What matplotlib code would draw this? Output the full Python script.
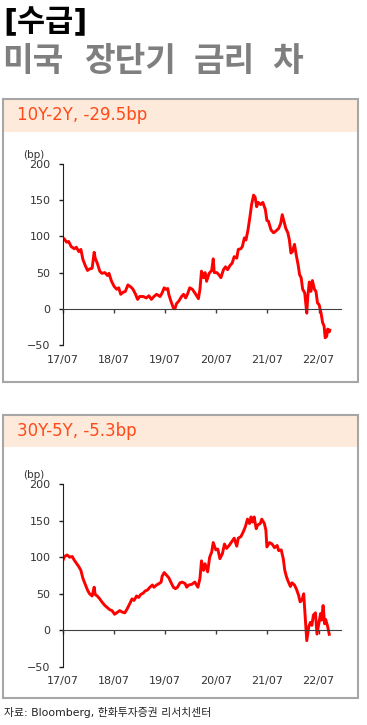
import matplotlib.pyplot as plt
from matplotlib.patches import Rectangle

plt.rcParams['font.family'] = ['DejaVu Sans', 'Noto Sans CJK KR']

# 시간축: 2017/07 부터 경과 연수
t_10y2y = [0.00, 0.03, 0.07, 0.11, 0.16, 0.22, 0.26, 0.31, 0.35, 0.39, 0.44, 0.48,
           0.52, 0.57, 0.61, 0.63, 0.67, 0.72, 0.76, 0.82, 0.87, 0.90, 0.95, 1.00,
           1.05, 1.09, 1.13, 1.18, 1.22, 1.27, 1.33, 1.37, 1.42, 1.46, 1.50, 1.57,
           1.63, 1.68, 1.73, 1.78, 1.83, 1.90, 1.94, 1.98, 2.01, 2.05, 2.07, 2.11,
           2.16, 2.19, 2.22, 2.27, 2.32, 2.36, 2.40, 2.44, 2.48, 2.53,
           2.58, 2.65, 2.68, 2.71, 2.75, 2.78, 2.81, 2.86, 2.91, 2.94, 2.96, 3.01,
           3.05, 3.09, 3.14, 3.18, 3.22, 3.27, 3.31, 3.35, 3.40, 3.43, 3.48, 3.51,
           3.55, 3.58, 3.62, 3.66, 3.69, 3.73, 3.76, 3.79, 3.82, 3.87, 3.91, 3.96,
           3.99, 4.02, 4.07, 4.12, 4.16, 4.22, 4.26, 4.29, 4.33, 4.36, 4.40, 4.43,
           4.46, 4.49, 4.53, 4.56, 4.60, 4.63, 4.66, 4.69, 4.73, 4.77, 4.79, 4.82,
           4.85, 4.88, 4.92, 4.95, 4.98, 5.01, 5.05, 5.08, 5.11, 5.13, 5.16, 5.18,
           5.21, 5.22]
v_10y2y = [98, 96, 92, 93, 86, 83, 85, 79, 82, 68, 59, 53,
           55, 56, 78, 70, 63, 52, 49, 50, 46, 49, 38, 31,
           27, 29, 20, 23, 24, 33, 30, 27, 20, 13, 17, 17,
           15, 18, 13, 17, 20, 17, 22, 29, 27, 28, 20, 11,
           1, 0, 7, 11, 17, 20, 15, 21, 29, 27,
           22, 14, 27, 52, 43, 50, 38, 49, 53, 69, 50, 50,
           47, 43, 54, 58, 54, 60, 63, 72, 70, 82, 83, 86,
           98, 95, 109, 128, 144, 157, 154, 141, 147, 144, 147, 137,
           122, 121, 109, 105, 107, 111, 118, 130, 119, 111, 105, 95,
           77, 79, 89, 76, 61, 47, 43, 27, 22, -6, 17, 37,
           24, 39, 27, 24, 8, 6, -6, -19, -24, -40, -38, -28,
           -32, -29.5]

t_30y5y = [0.00, 0.03, 0.08, 0.13, 0.18, 0.22, 0.26, 0.31, 0.35, 0.39, 0.44, 0.48,
           0.52, 0.57, 0.61, 0.63, 0.67, 0.72, 0.76, 0.82, 0.87, 0.92, 0.96, 1.01,
           1.07, 1.11, 1.16, 1.21, 1.26, 1.31, 1.35, 1.39, 1.44, 1.48, 1.52, 1.57,
           1.61, 1.65, 1.70, 1.75, 1.78, 1.83, 1.88, 1.92, 1.94, 1.98, 2.03, 2.07,
           2.11, 2.16, 2.20, 2.24, 2.29, 2.33, 2.39, 2.42, 2.46, 2.52,
           2.58, 2.64, 2.68, 2.71, 2.75, 2.78, 2.83, 2.87, 2.91, 2.94, 2.99, 3.03,
           3.07, 3.12, 3.16, 3.20, 3.25, 3.30, 3.35, 3.40, 3.43, 3.48, 3.53, 3.57,
           3.61, 3.65, 3.68, 3.71, 3.74, 3.78, 3.81, 3.86, 3.89, 3.94, 3.97, 3.99,
           4.04, 4.09, 4.14, 4.19, 4.22, 4.27, 4.31, 4.34, 4.37, 4.40, 4.45, 4.48,
           4.53, 4.57, 4.61, 4.64, 4.68, 4.71, 4.74, 4.77, 4.81, 4.84, 4.87, 4.90,
           4.94, 4.97, 5.00, 5.04, 5.06, 5.09, 5.12, 5.14, 5.18, 5.21]
v_30y5y = [96, 101, 103, 100, 101, 96, 92, 87, 82, 71, 62, 55,
           50, 47, 59, 49, 47, 43, 39, 34, 31, 28, 27, 22,
           25, 27, 25, 24, 30, 37, 43, 41, 47, 45, 49, 51,
           54, 55, 59, 62, 59, 62, 64, 66, 74, 79, 75, 72,
           66, 59, 57, 59, 65, 66, 64, 59, 62, 63,
           66, 59, 71, 95, 82, 91, 80, 100, 107, 120, 110, 111,
           98, 105, 118, 112, 116, 121, 126, 115, 126, 128, 135, 142,
           152, 146, 155, 148, 155, 139, 144, 146, 152, 146, 137, 114,
           120, 118, 113, 116, 109, 110, 98, 82, 74, 68, 60, 65,
           62, 56, 48, 39, 42, 50, 18, -14, 5, 11, 7, 21,
           24, -5, 7, 23, 14, 34, 9, 15, 5, -5.3]

tick_pos = [0, 1, 2, 3, 4, 5]
tick_labels = ['17/07', '18/07', '19/07', '20/07', '21/07', '22/07']

W, H = 367, 725
fig = plt.figure(figsize=(W / 100, H / 100), dpi=100)


def fig_rect(x0, y0, x1, y1):
    # 픽셀 좌표(위에서 아래) -> figure 좌표
    return x0 / W, 1 - y1 / H, (x1 - x0) / W, (y1 - y0) / H


def panel(box_top, head_bot, box_bot, ax_top, ax_bot, header, t, v):
    x, y, w, h = fig_rect(3, box_top, 358, head_bot)
    fig.add_artist(Rectangle((x, y), w, h, transform=fig.transFigure,
                             facecolor='#FDEADA', edgecolor='none', zorder=0))
    x, y, w, h = fig_rect(3, box_top, 358, box_bot)
    fig.add_artist(Rectangle((x, y), w, h, transform=fig.transFigure,
                             facecolor='none', edgecolor='#A6A6A6', lw=1.5, zorder=1))
    fig.text(17 / W, 1 - (box_top + head_bot) / 2 / H, header, fontsize=12,
             color='#FF4A1A', va='center', ha='left')

    ax = fig.add_axes(fig_rect(63, ax_top, 341, ax_bot))
    ax.patch.set_alpha(0)
    ax.plot(t, v, color='#FF0000', lw=2.1, solid_joinstyle='round')
    ax.set_xlim(0, 5.44)
    ax.set_ylim(-50, 200)
    ax.set_yticks([-50, 0, 50, 100, 150, 200])
    ax.set_xticks(tick_pos)
    ax.set_xticklabels(tick_labels)
    for s in ['top', 'right']:
        ax.spines[s].set_visible(False)
    ax.spines['bottom'].set_position(('data', 0))
    ax.spines['bottom'].set_color('#404040')
    ax.spines['left'].set_color('#202020')
    ax.tick_params(axis='y', direction='out', length=3, width=1, pad=6,
                   labelsize=8, labelcolor='#333333', color='#202020')
    ax.tick_params(axis='x', direction='out', length=3, width=1, pad=30,
                   labelsize=8, labelcolor='#333333', color='#404040')
    ax.text(-0.104, 1.02, '(bp)', transform=ax.transAxes, fontsize=7.5,
            color='#333333', ha='center', va='bottom')
    return ax


panel(99, 131.5, 382, 164, 345, '10Y-2Y, -29.5bp', t_10y2y, v_10y2y)
panel(415, 447, 698, 484, 667, '30Y-5Y, -5.3bp', t_30y5y, v_30y5y)

fig.text(3 / W, 1 - 22 / H, '[수급]', fontsize=22, fontweight='bold',
         color='black', va='center', ha='left')
# 제목 단어 간격을 원본처럼 넓게
for word, x0 in [('미국', 2), ('장단기', 84), ('금리', 194), ('차', 272)]:
    fig.text(x0 / W, 1 - 62 / H, word, fontsize=24, fontweight='bold',
             color='#7F7F7F', va='center', ha='left')
fig.text(4 / W, 1 - 712 / H, '자료: Bloomberg, 한화투자증권 리서치센터', fontsize=7.8,
         color='#222222', va='center', ha='left')

fig.savefig('out.png', dpi=100)
